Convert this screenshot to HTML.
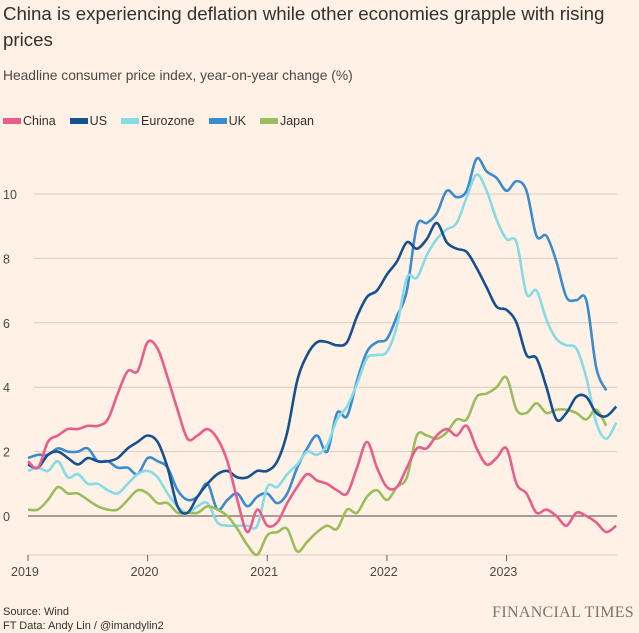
<!DOCTYPE html>
<html><head><meta charset="utf-8"><style>
body{margin:0;background:#FFF1E5;width:639px;height:633px;overflow:hidden;font-family:"Liberation Sans",sans-serif;position:relative}
.t{position:absolute;left:3px;top:1px;font-size:18.7px;line-height:26px;color:#33302e;width:630px}
.s{position:absolute;left:3px;top:68px;font-size:13.8px;color:#4d4845}
.lg{position:absolute;left:3px;top:114px;font-size:12.5px;color:#33302e;display:flex;gap:14px}
.lg span{display:flex;align-items:center}
.lg i{display:inline-block;width:18px;height:6px;margin-right:2px}
.src{position:absolute;left:3px;top:605px;font-size:11px;color:#33302e;line-height:14px}
.ft{position:absolute;right:5px;top:604px;font-family:"Liberation Serif",serif;font-size:16px;color:#7a736e;letter-spacing:0.3px}
svg{position:absolute;left:0;top:0}
</style></head><body>
<div class="t">China is experiencing deflation while other economies grapple with rising prices</div>
<div class="s">Headline consumer price index, year-on-year change (%)</div>
<div class="lg"><span><i style="background:#e95d8c"></i>China</span><span><i style="background:#17508f"></i>US</span><span><i style="background:#86dbe6"></i>Eurozone</span><span><i style="background:#3a8ccc"></i>UK</span><span><i style="background:#9bbd5c"></i>Japan</span></div>
<svg id="c" width="639" height="633" font-family="Liberation Sans, sans-serif" font-size="12.5" fill="#4d4845"></svg>
<div class="src">Source: Wind<br>FT Data: Andy Lin / @imandylin2</div>
<div class="ft">FINANCIAL TIMES</div>
<script>
var s=document.getElementById('c'),h='';
function Y(v){return 516-v*32.2}function X(m){return 28+m*9.97}
[2,4,6,8,10].forEach(function(v){h+='<line x1="34" x2="617" y1="'+Y(v)+'" y2="'+Y(v)+'" stroke="#d9cbbf" stroke-width="1"/><text x="3" y="'+(Y(v)+5)+'">'+v+'</text>'});
h+='<text x="3" y="521">0</text>';
h+='<line x1="28" x2="617" y1="555" y2="555" stroke="#d9cbbf"/>';
for(var i=0;i<5;i++){var x=X(i*12);h+='<line x1="'+x+'" x2="'+x+'" y1="555" y2="561" stroke="#66605c"/><text x="'+(x-17)+'" y="576">'+(2019+i)+'</text>';}
var D={
uk:['#3a8ccc',[1.8,1.9,1.9,2.1,2.0,2.0,2.1,1.7,1.7,1.5,1.5,1.3,1.8,1.7,1.5,0.8,0.5,0.6,1.0,0.2,0.5,0.7,0.3,0.6,0.7,0.4,0.7,1.5,2.1,2.5,2.0,3.2,3.1,4.2,5.1,5.4,5.5,6.2,7.0,9.0,9.1,9.4,10.1,9.9,10.1,11.1,10.7,10.5,10.1,10.4,10.1,8.7,8.7,7.9,6.8,6.7,6.7,4.6,3.9]],
ez:['#86dbe6',[1.4,1.5,1.4,1.7,1.2,1.3,1.0,1.0,0.8,0.7,1.0,1.3,1.4,1.2,0.7,0.3,0.1,0.3,0.4,-0.2,-0.3,-0.3,-0.3,-0.3,0.9,0.9,1.3,1.6,2.0,1.9,2.2,3.0,3.4,4.1,4.9,5.0,5.1,5.9,7.4,7.4,8.1,8.6,8.9,9.1,9.9,10.6,10.1,9.2,8.6,8.5,6.9,7.0,6.1,5.5,5.3,5.2,4.3,2.9,2.4,2.9]],
jp:['#9bbd5c',[0.2,0.2,0.5,0.9,0.7,0.7,0.5,0.3,0.2,0.2,0.5,0.8,0.7,0.4,0.4,0.1,0.1,0.1,0.3,0.2,0.0,-0.4,-0.9,-1.2,-0.6,-0.5,-0.4,-1.1,-0.8,-0.5,-0.3,-0.4,0.2,0.1,0.6,0.8,0.5,0.9,1.2,2.5,2.5,2.4,2.6,3.0,3.0,3.7,3.8,4.0,4.3,3.3,3.2,3.5,3.2,3.3,3.3,3.2,3.0,3.3,2.8]],
us:['#17508f',[1.6,1.5,1.9,2.0,1.8,1.6,1.8,1.7,1.7,1.8,2.1,2.3,2.5,2.3,1.5,0.3,0.1,0.6,1.0,1.3,1.4,1.2,1.2,1.4,1.4,1.7,2.6,4.2,5.0,5.4,5.4,5.3,5.4,6.2,6.8,7.0,7.5,7.9,8.5,8.3,8.6,9.1,8.5,8.3,8.2,7.7,7.1,6.5,6.4,6.0,5.0,4.9,4.0,3.0,3.2,3.7,3.7,3.2,3.1,3.4]],
cn:['#e95d8c',[1.7,1.5,2.3,2.5,2.7,2.7,2.8,2.8,3.0,3.8,4.5,4.5,5.4,5.2,4.3,3.3,2.4,2.5,2.7,2.4,1.7,0.5,-0.5,0.2,-0.3,-0.2,0.4,0.9,1.3,1.1,1.0,0.8,0.7,1.5,2.3,1.5,0.9,0.9,1.5,2.1,2.1,2.5,2.7,2.5,2.8,2.1,1.6,1.8,2.1,1.0,0.7,0.1,0.2,0.0,-0.3,0.1,0.0,-0.2,-0.5,-0.3]]};
h+='<line x1="28" x2="617" y1="516" y2="516" stroke="#4d4845" stroke-width="1"/>';
['uk','ez','jp','us','cn'].forEach(function(k){var c=D[k][0],v=D[k][1],p=v.map(function(a,i){return[X(i),Y(a)]});
var d='M'+p[0][0]+','+p[0][1];for(var i=0;i<p.length-1;i++){var a=p[i>0?i-1:i],b=p[i],e=p[i+1],f=p[i+2<p.length?i+2:i+1];
d+='C'+(b[0]+(e[0]-a[0])/6)+','+(b[1]+(e[1]-a[1])/6)+' '+(e[0]-(f[0]-b[0])/6)+','+(e[1]-(f[1]-b[1])/6)+' '+e[0]+','+e[1];}
h+='<path d="'+d+'" fill="none" stroke="'+c+'" stroke-width="2.6" stroke-linejoin="round"/>';});
s.innerHTML=h;
</script>
</body></html>
